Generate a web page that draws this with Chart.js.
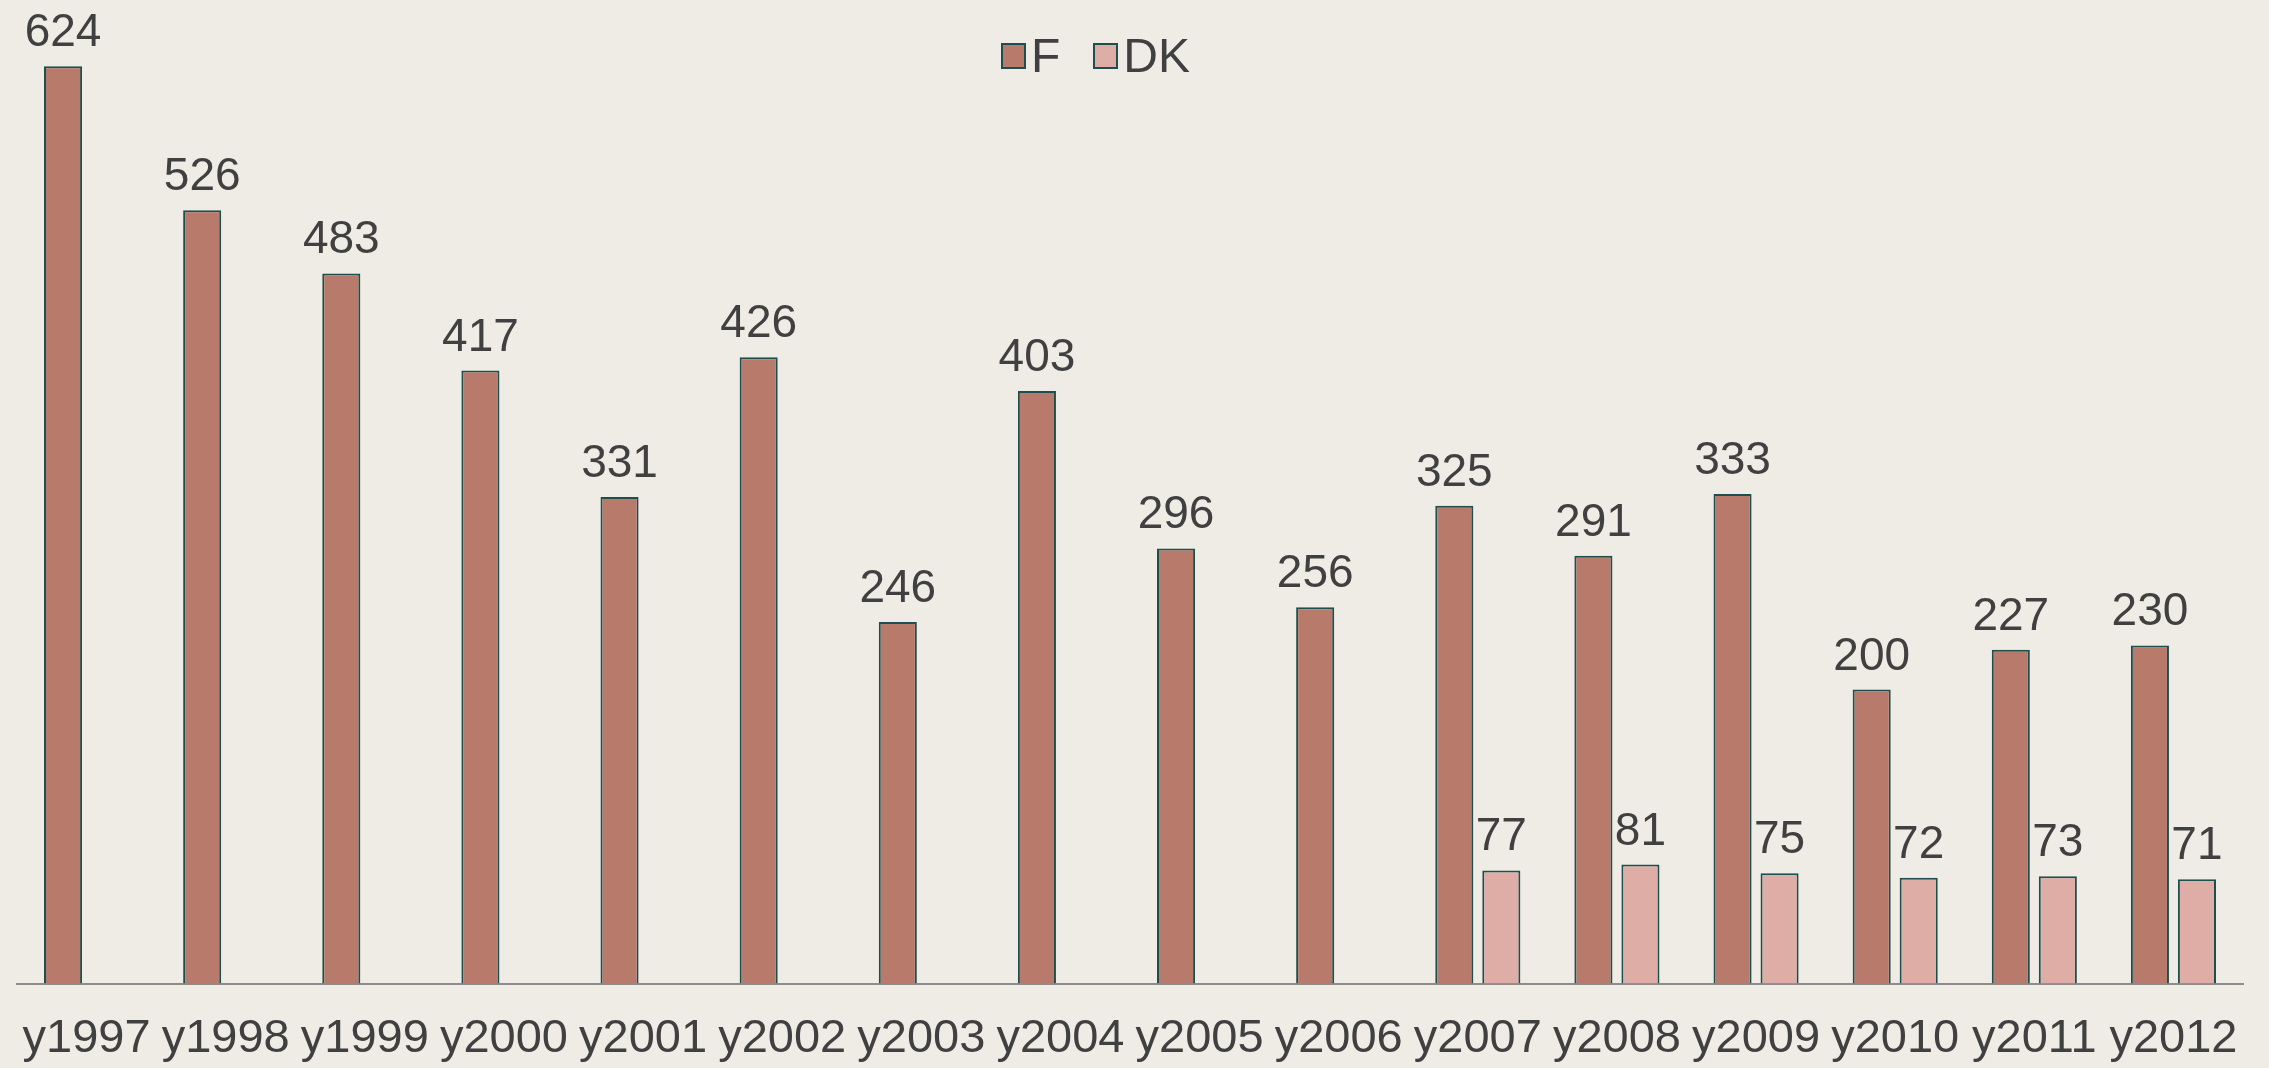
<!DOCTYPE html>
<html>
<head>
<meta charset="utf-8">
<script src="https://cdn.jsdelivr.net/npm/chart.js@4"></script>
<style>
	html, body {
		margin: 0;
		padding: 0;
		background: #efece5;
		overflow: hidden;
	}
	#wrap {
		position: relative;
		width: 2269px;
		height: 1068px;
	}
	#legend {
		position: absolute;
		left: 1001px;
		top: 28px;
		display: flex;
		align-items: center;
		font-family: "Liberation Sans", Arial, sans-serif;
		font-size: 48px;
		color: #404040;
	}
	#legend .box {
		display: inline-block;
		width: 21px;
		height: 22px;
		border: 2px solid #1d4f4f;
		margin-right: 5px;
	}
	#legend .item {
		display: flex;
		align-items: center;
		margin-right: 33px;
	}
</style>
</head>
<body>
<div id="wrap">
	<canvas id="yearChart" width="2269" height="1068"></canvas>
	<div id="legend"></div>
</div>
<script>
const years = ['y1997', 'y1998', 'y1999', 'y2000', 'y2001', 'y2002', 'y2003', 'y2004',
               'y2005', 'y2006', 'y2007', 'y2008', 'y2009', 'y2010', 'y2011', 'y2012'];
const seriesNames = ['F', 'DK'];
const valuesF = [624, 526, 483, 417, 331, 426, 246, 403, 296, 256, 325, 291, 333, 200, 227, 230];
const valuesDK = [null, null, null, null, null, null, null, null, null, null, 77, 81, 75, 72, 73, 71];
const seriesColors = ['#b87a6b', '#deaea6'];

const textColor = '#404040';
const fontFamily = '"Liberation Sans", Arial, sans-serif';

// value labels drawn above every bar
const valueLabels = {
	id: 'valueLabels',
	afterDatasetsDraw(chart) {
		const ctx = chart.ctx;
		ctx.save();
		ctx.font = '46px ' + fontFamily;
		ctx.fillStyle = textColor;
		ctx.textAlign = 'center';
		ctx.textBaseline = 'alphabetic';
		chart.data.datasets.forEach((ds, i) => {
			chart.getDatasetMeta(i).data.forEach((bar, j) => {
				if (ds.data[j] === null) return;
				ctx.fillText(ds.data[j], bar.x, bar.y - 20);
			});
		});
		ctx.restore();
	}
};

window.onload = function () {
	const legend = document.getElementById('legend');
	seriesNames.forEach((name, i) => {
		const item = document.createElement('span');
		item.className = 'item';
		const box = document.createElement('span');
		box.className = 'box';
		box.style.background = seriesColors[i];
		item.appendChild(box);
		item.appendChild(document.createTextNode(name));
		legend.appendChild(item);
	});

	const ctx = document.getElementById('yearChart').getContext('2d');
	new Chart(ctx, {
		type: 'bar',
		data: {
			labels: years,
			datasets: [{
				label: seriesNames[0],
				data: valuesF,
				backgroundColor: seriesColors[0],
				borderColor: '#1d4f4f',
				borderWidth: 2
			}, {
				label: seriesNames[1],
				data: valuesDK,
				backgroundColor: seriesColors[1],
				borderColor: '#1d4f4f',
				borderWidth: 2
			}]
		},
		options: {
			responsive: false,
			animation: false,
			categoryPercentage: 0.676,
			barPercentage: 0.81,
			layout: {
				padding: { left: 17, right: 26, top: 0, bottom: -26 }
			},
			scales: {
				x: {
					grid: { display: false, drawTicks: false },
					border: { display: true, color: '#8c8c8c', width: 2 },
					ticks: {
						color: textColor,
						padding: 27,
						maxRotation: 0,
						autoSkip: false,
						font: { family: fontFamily, size: 47 }
					},
					// labels fit inside the canvas, no extra side padding needed
					afterFit(scale) {
						scale.paddingLeft = 0;
						scale.paddingRight = 0;
					}
				},
				y: {
					display: false,
					beginAtZero: true,
					min: 0,
					max: 669
				}
			},
			plugins: {
				legend: { display: false },
				tooltip: { enabled: false }
			}
		},
		plugins: [valueLabels]
	});
};
</script>
</body>
</html>
